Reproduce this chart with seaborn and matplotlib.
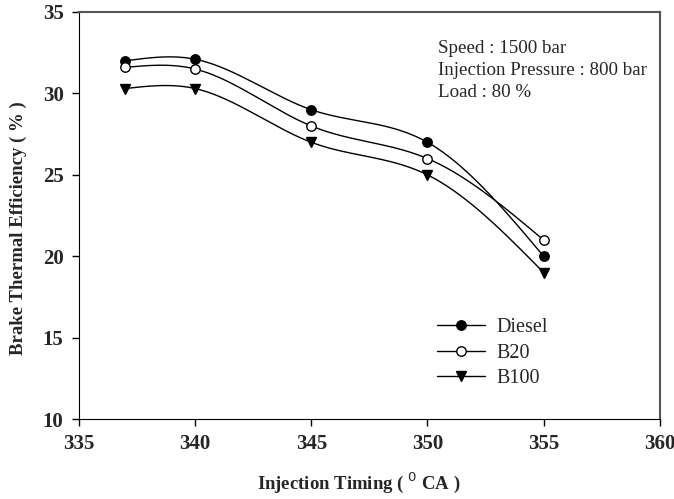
import numpy as np
import pandas as pd
import matplotlib
matplotlib.use('Agg')
import matplotlib.pyplot as plt
import seaborn as sns
from matplotlib.lines import Line2D

timing = [337, 340, 345, 350, 355]
diesel = [32.0, 32.1, 29.0, 27.0, 20.0]
b20 = [31.6, 31.5, 28.0, 26.0, 21.0]
b100 = [30.3, 30.3, 27.0, 25.0, 19.0]
fuels = ['Diesel', 'B20', 'B100']
notes = ['Speed : 1500 bar', 'Injection Pressure : 800 bar', 'Load : 80 %']


def spline(x, y, n=200):
    # natural cubic spline, just for the smooth connecting line
    x = np.asarray(x, float)
    y = np.asarray(y, float)
    k = len(x)
    h = np.diff(x)
    A = np.zeros((k, k))
    r = np.zeros(k)
    A[0, 0] = A[-1, -1] = 1
    for i in range(1, k - 1):
        A[i, i - 1] = h[i - 1]
        A[i, i] = 2 * (h[i - 1] + h[i])
        A[i, i + 1] = h[i]
        r[i] = 3 * ((y[i + 1] - y[i]) / h[i] - (y[i] - y[i - 1]) / h[i - 1])
    c = np.linalg.solve(A, r)
    xs = np.linspace(x[0], x[-1], n)
    j = np.clip(np.searchsorted(x, xs) - 1, 0, k - 2)
    dx = xs - x[j]
    b = (y[j + 1] - y[j]) / h[j] - h[j] * (2 * c[j] + c[j + 1]) / 3
    d = (c[j + 1] - c[j]) / (3 * h[j])
    return xs, y[j] + b * dx + c[j] * dx ** 2 + d * dx ** 3


df = pd.DataFrame({'timing': timing * 3,
                   'bte': diesel + b20 + b100,
                   'fuel': np.repeat(fuels, len(timing))})

sns.set_style('ticks')
plt.rcParams['font.family'] = ['Liberation Serif', 'DejaVu Serif']

fig, ax = plt.subplots(figsize=(6.74, 4.99), dpi=100)
fig.subplots_adjust(left=0.117, right=0.979, top=0.976, bottom=0.16)

markers = {'Diesel': 'o', 'B20': 'o', 'B100': 'v'}
faces = {'Diesel': 'black', 'B20': 'white', 'B100': 'black'}
for f in fuels:
    sub = df[df['fuel'] == f]
    xs, ys = spline(sub['timing'], sub['bte'])
    sns.lineplot(x=xs, y=ys, ax=ax, color='black', lw=1.0, legend=False)
    ax.plot(sub['timing'], sub['bte'], ls='none', marker=markers[f], ms=6.8,
            mfc=faces[f], mec='black', mew=1.0, zorder=3)

handles = [Line2D([], [], color='black', lw=1.0, marker=markers[f], ms=6.8,
                  mfc=faces[f], mec='black') for f in fuels]
ax.legend(handles, fuels, loc='upper left', bbox_to_anchor=(0.585, 0.292),
          frameon=False, fontsize=14.5, handlelength=2.4, labelspacing=0.3,
          handletextpad=0.55)

ax.text(0.618, 0.93, '\n'.join(notes), transform=ax.transAxes, va='top',
        fontsize=13.7, linespacing=1.35)

ax.set_xlim(335, 360)
ax.set_ylim(10, 35)
ax.set_xticks([335, 340, 345, 350, 355, 360])
ax.set_yticks([10, 15, 20, 25, 30, 35])
ax.tick_params(direction='out', length=5, width=1, color='black', pad=6)
for lab in ax.get_xticklabels() + ax.get_yticklabels():
    lab.set_fontweight('bold')
    lab.set_fontsize(15)
ax.set_xlabel('Injection Timing ( $^{0}$ CA )', fontsize=13.5, fontweight='bold')
ax.set_ylabel('Brake Thermal Efficiency ( % )', fontsize=13.5, fontweight='bold')
ax.xaxis.set_label_coords(0.482, -0.125)
ax.yaxis.set_label_coords(-0.09, 0.468)
for s in ['left', 'bottom']:
    ax.spines[s].set_color('black')
for s in ['top', 'right']:
    ax.spines[s].set_color('#555555')
    ax.spines[s].set_linewidth(1.5)

fig.savefig('out.png', dpi=100)
